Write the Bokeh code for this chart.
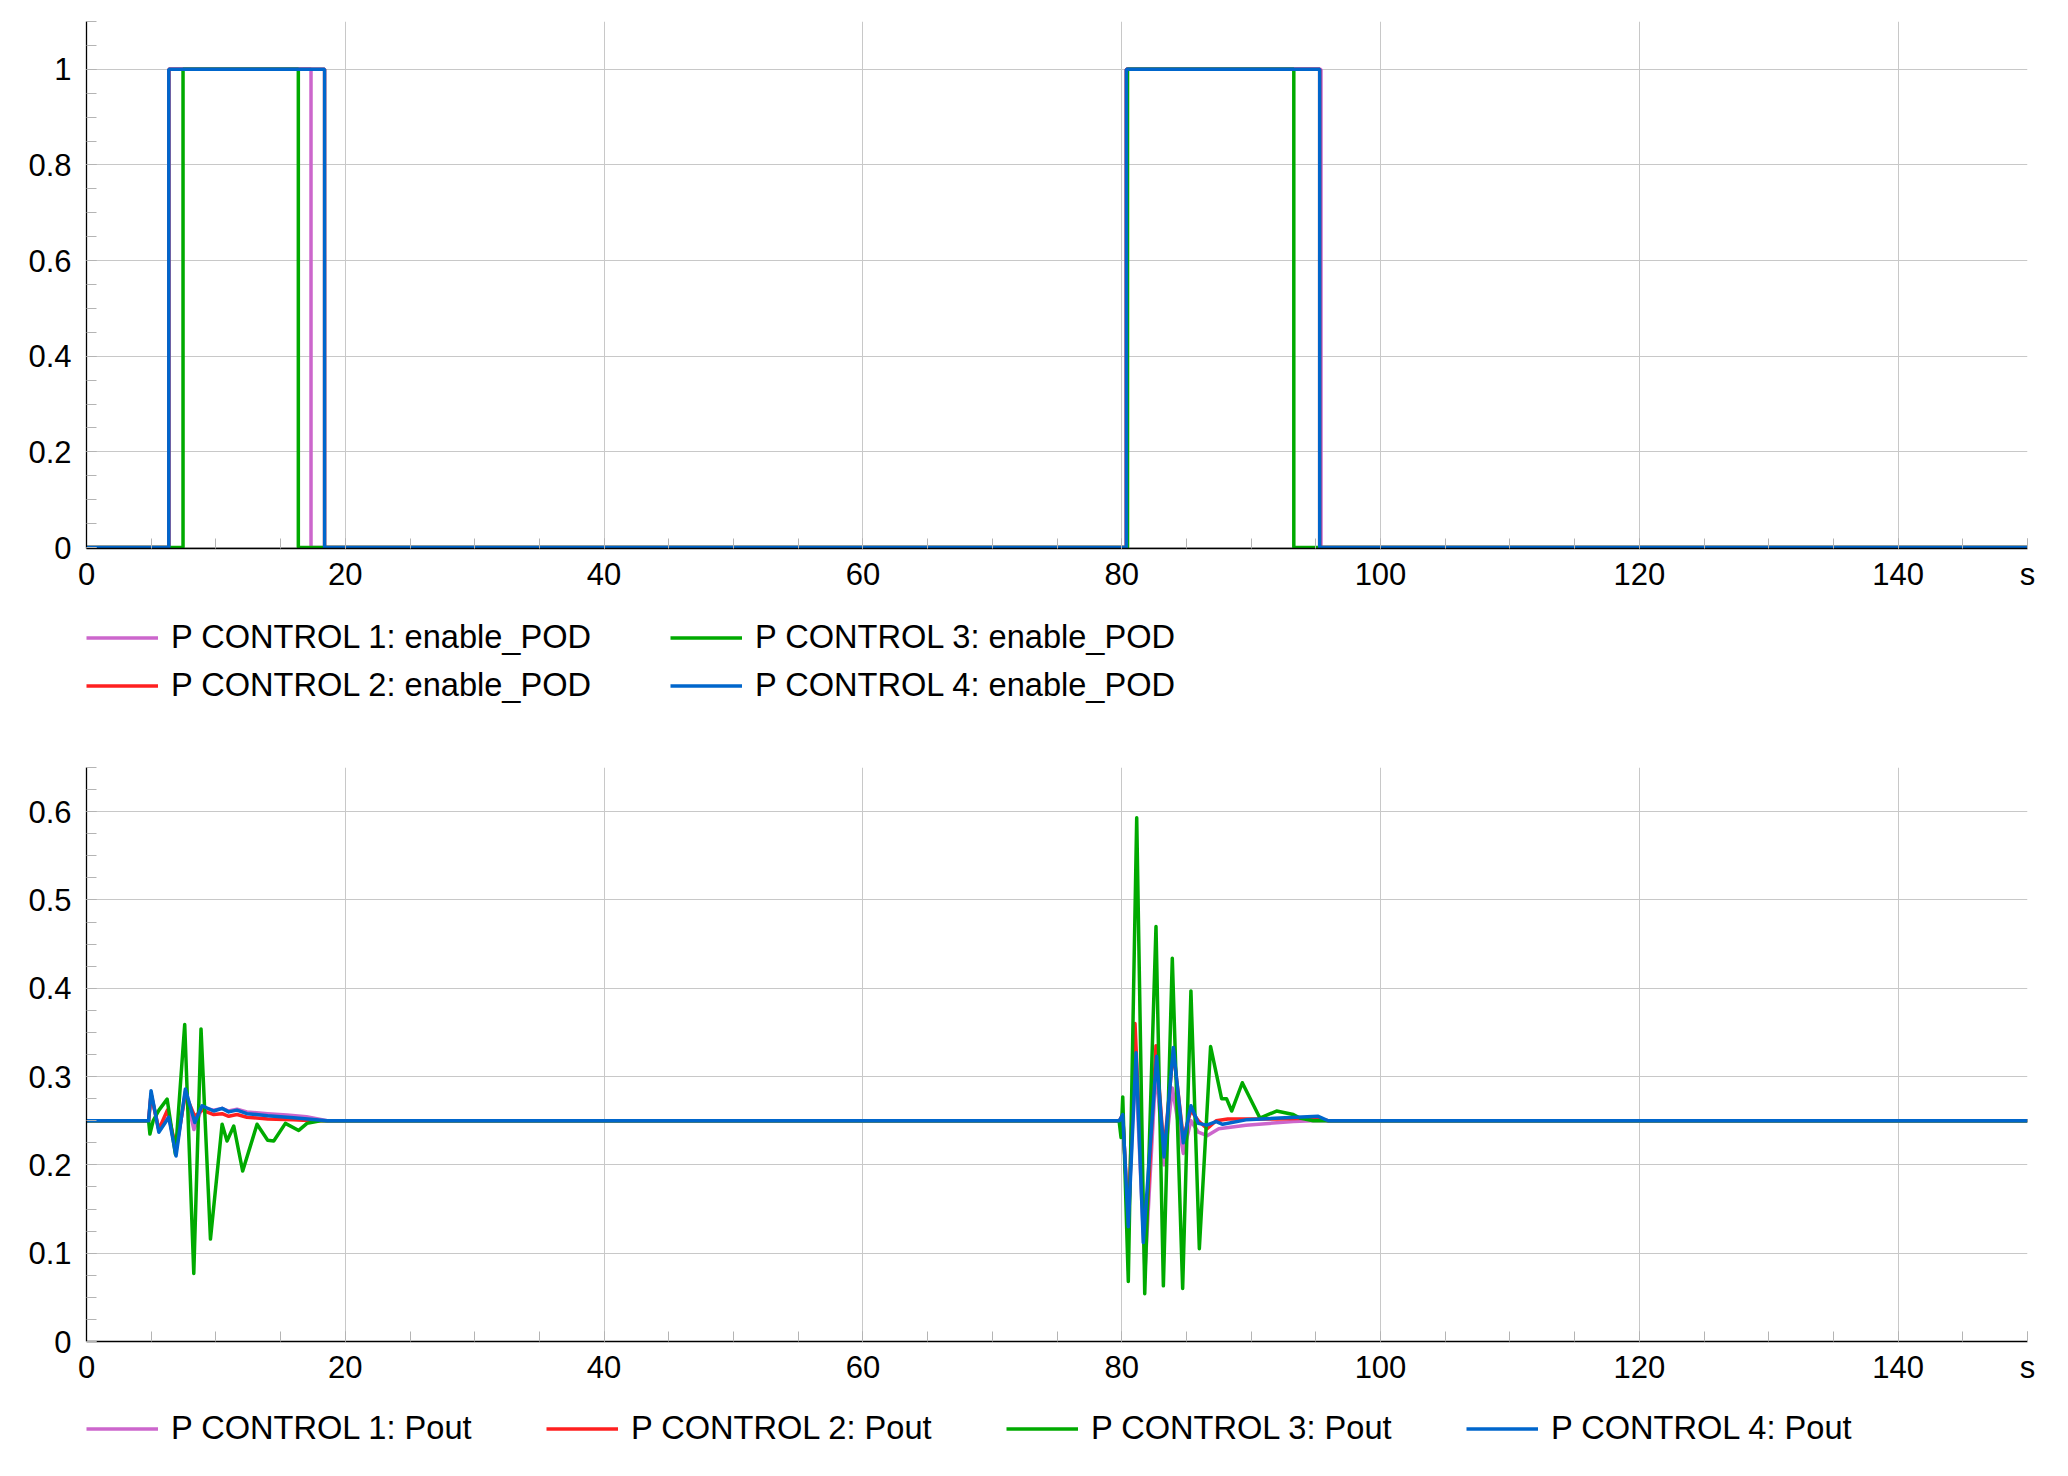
from bokeh.plotting import figure
from bokeh.models import Legend, LegendItem, FixedTicker, NumeralTickFormatter, Range1d
from bokeh.layouts import column
from bokeh.embed import file_html
from bokeh.resources import INLINE

# ---------------- data ----------------
names = ["P CONTROL 1", "P CONTROL 2", "P CONTROL 3", "P CONTROL 4"]
colors = ["#CC66CC", "#FF2020", "#00AA00", "#0066CC"]

# enable_POD switching instants (s)
pod_on_1 = [6.36, 80.36]
pod_off_1 = [17.35, 95.4]
pod_on_2 = [6.36, 80.36]
pod_off_2 = [18.4, 95.3]
pod_on_3 = [7.46, 80.45]
pod_off_3 = [16.37, 93.3]
pod_on_4 = [6.36, 80.36]
pod_off_4 = [18.4, 95.3]

# Pout traces
t_p1 = [0, 4.8, 4.99, 5.59, 6.36, 6.92, 7.64, 8.3, 8.93, 9.83, 10.48, 10.99, 11.63, 12.4, 14.0, 15.5, 17.0, 18.6,
        79.82, 80.08, 80.51, 81.05, 81.8, 82.65, 83.27, 83.91, 84.76, 85.35, 85.92, 86.6, 87.5, 89.6, 93.26, 94.8, 150]
v_p1 = [0.25, 0.25, 0.28, 0.24, 0.255, 0.215, 0.283, 0.240, 0.265, 0.262, 0.264, 0.261, 0.263, 0.260, 0.258, 0.2565, 0.2545, 0.25,
        0.25, 0.255, 0.135, 0.32, 0.08, 0.31, 0.20, 0.287, 0.213, 0.25, 0.237, 0.233, 0.241, 0.245, 0.249, 0.25, 0.25]

t_p2 = [0, 4.8, 4.99, 5.59, 6.25, 6.92, 7.64, 8.37, 8.93, 9.83, 10.48, 10.99, 11.63, 12.4, 14.0, 16.0, 17.5,
        79.82, 80.08, 80.51, 81.03, 81.8, 82.65, 83.27, 83.99, 84.76, 85.35, 85.92, 86.6, 87.3, 88.2, 90.0, 92.0, 95.0, 95.96, 150]
v_p2 = [0.25, 0.25, 0.28, 0.24, 0.262, 0.218, 0.28, 0.255, 0.262, 0.257, 0.258, 0.255, 0.257, 0.254, 0.252, 0.251, 0.25,
        0.25, 0.257, 0.13, 0.36, 0.098, 0.335, 0.215, 0.33, 0.23, 0.262, 0.25, 0.241, 0.25, 0.252, 0.252, 0.252, 0.253, 0.25, 0.25]

t_p3 = [0, 4.8, 4.9, 5.15, 5.6, 6.23, 6.87, 7.59, 8.29, 8.85, 9.58, 10.48, 10.86, 11.38, 12.07, 13.18, 14.0, 14.47,
        15.37, 16.4, 17.04, 18.07,
        79.8, 79.95, 80.08, 80.51, 81.16, 81.78, 82.65, 83.22, 83.91, 84.71, 85.35, 86.0, 86.87, 87.72, 88.1, 88.5,
        89.32, 90.68, 91.97, 93.26, 93.77, 94.8, 150]
v_p3 = [0.25, 0.25, 0.235, 0.25, 0.262, 0.2745, 0.212, 0.359, 0.077, 0.354, 0.116, 0.246, 0.227, 0.244, 0.193, 0.246, 0.228, 0.227,
        0.247, 0.239, 0.247, 0.25,
        0.25, 0.231, 0.277, 0.068, 0.593, 0.054, 0.470, 0.063, 0.434, 0.060, 0.397, 0.105, 0.334, 0.275, 0.275, 0.261,
        0.293, 0.253, 0.261, 0.257, 0.253, 0.25, 0.25]

t_p4 = [0, 4.8, 4.99, 5.59, 6.36, 6.92, 7.64, 8.37, 8.93, 9.83, 10.48, 10.99, 11.63, 12.4, 14.0, 16.0, 18.6,
        79.82, 80.08, 80.51, 81.11, 81.67, 82.7, 83.27, 83.99, 84.76, 85.35, 85.92, 86.56, 87.3, 87.8, 89.6, 92.2, 95.19, 95.96, 150]
v_p4 = [0.25, 0.25, 0.284, 0.237, 0.254, 0.210, 0.286, 0.248, 0.267, 0.261, 0.264, 0.260, 0.262, 0.258, 0.2557, 0.2535, 0.25,
        0.25, 0.257, 0.130, 0.327, 0.112, 0.323, 0.209, 0.333, 0.225, 0.267, 0.247, 0.245, 0.249, 0.246, 0.251, 0.253, 0.255, 0.25, 0.25]

x_ticks = [0, 20, 40, 60, 80, 100, 120, 140, 150]
x_tick_labels = {150: "s"}
x_minor = list(range(0, 151, 5))
y1_ticks = [0, 0.2, 0.4, 0.6, 0.8, 1]
y1_minor = [i * 0.05 for i in range(23)]
y2_ticks = [0, 0.1, 0.2, 0.3, 0.4, 0.5, 0.6]
y2_minor = [i * 0.025 for i in range(27)]

T_END = 150


def step_series(ons, offs):
    t, v = [0], [0]
    for a, b in zip(ons, offs):
        t += [a, a, b, b]
        v += [0, 1, 1, 0]
    t.append(T_END)
    v.append(0)
    return t, v


FONT = "Liberation Sans"
FW = 1941
LEFT = 86
RIGHT = 30
LW = 3.5


def style(p, yticks, yminor):
    p.outline_line_color = None
    p.background_fill_color = "white"
    p.border_fill_color = "white"
    xa = p.xaxis[0]
    ya = p.yaxis[0]
    xa.ticker = FixedTicker(ticks=x_ticks, minor_ticks=x_minor)
    xa.major_label_overrides = x_tick_labels
    ya.ticker = FixedTicker(ticks=yticks, minor_ticks=yminor)
    ya.formatter = NumeralTickFormatter(format="0.[0]")
    for ax in (xa, ya):
        ax.axis_line_color = "black"
        ax.axis_line_width = 1.3
        ax.major_tick_in = 10
        ax.major_tick_out = 0
        ax.minor_tick_in = 10
        ax.minor_tick_out = 0
        ax.major_tick_line_color = "#B4B4B4"
        ax.minor_tick_line_color = "#B4B4B4"
        ax.major_label_text_font = FONT
        ax.major_label_text_font_size = "31px"
        ax.major_label_text_color = "black"
    xa.major_label_standoff = 8
    ya.major_label_standoff = 15
    p.xgrid.ticker = FixedTicker(ticks=x_ticks[:-1])
    p.ygrid.ticker = FixedTicker(ticks=yticks)
    for g in (p.xgrid[0], p.ygrid[0]):
        g.grid_line_color = "#C8C8C8"
        g.grid_line_width = 1


def legend_figure(series, labels, frame_h, top, **legend_kw):
    # Legend strip below a chart; the series are re-used as legend proxies,
    # with a view window that shows none of their points.
    q = figure(frame_width=FW, frame_height=frame_h, output_backend="svg", toolbar_location=None,
               x_axis_type=None, y_axis_type=None, x_range=Range1d(-20, -10), y_range=Range1d(-20, -10),
               min_border_left=LEFT, min_border_right=RIGHT, min_border_top=top, min_border_bottom=0)
    q.outline_line_color = None
    q.background_fill_color = "white"
    q.border_fill_color = "white"
    items = []
    for (t, v), lab, col in zip(series, labels, colors):
        r = q.line(t, v, line_color=col, line_width=LW)
        items.append(LegendItem(label=lab, renderers=[r]))
    leg = Legend(items=items, location="top_left",
                 label_text_font=FONT, label_text_font_size="32.6px", label_text_color="black",
                 glyph_width=72, glyph_height=37, label_height=37,
                 label_standoff=13, padding=0, margin=0,
                 border_line_color=None, background_fill_alpha=0, **legend_kw)
    q.add_layout(leg)
    return q


# ---------------- top figure ----------------
p1 = figure(frame_width=FW, frame_height=527, output_backend="svg", toolbar_location=None,
            x_range=Range1d(0, 150), y_range=Range1d(-0.002, 1.1),
            min_border_left=LEFT, min_border_right=RIGHT, min_border_top=21, min_border_bottom=60)
style(p1, y1_ticks, y1_minor)

pods = [(pod_on_1, pod_off_1), (pod_on_2, pod_off_2), (pod_on_3, pod_off_3), (pod_on_4, pod_off_4)]
pod_series = [step_series(on, off) for on, off in pods]
for col, (t, v) in zip(colors, pod_series):
    p1.line(t, v, line_color=col, line_width=LW)

leg_top = legend_figure(pod_series, [n + ": enable_POD" for n in names], 102, 10,
                        orientation="vertical", nrows=2, label_width=489, spacing=10)

# ---------------- bottom figure ----------------
p2 = figure(frame_width=FW, frame_height=574, output_backend="svg", toolbar_location=None,
            x_range=Range1d(0, 150), y_range=Range1d(0, 0.65),
            min_border_left=LEFT, min_border_right=RIGHT, min_border_top=47, min_border_bottom=60)
style(p2, y2_ticks, y2_minor)

pouts = [(t_p1, v_p1), (t_p2, v_p2), (t_p3, v_p3), (t_p4, v_p4)]
for col, (t, v) in zip(colors, pouts):
    p2.line(t, v, line_color=col, line_width=LW, line_join="round")

leg_bot = legend_figure(pouts, [n + ": Pout" for n in names], 60, 8,
                        orientation="horizontal", label_width=375, spacing=0)

layout = column(p1, leg_top, p2, leg_bot, spacing=0)
open("out.html", "w").write(file_html(layout, INLINE))
